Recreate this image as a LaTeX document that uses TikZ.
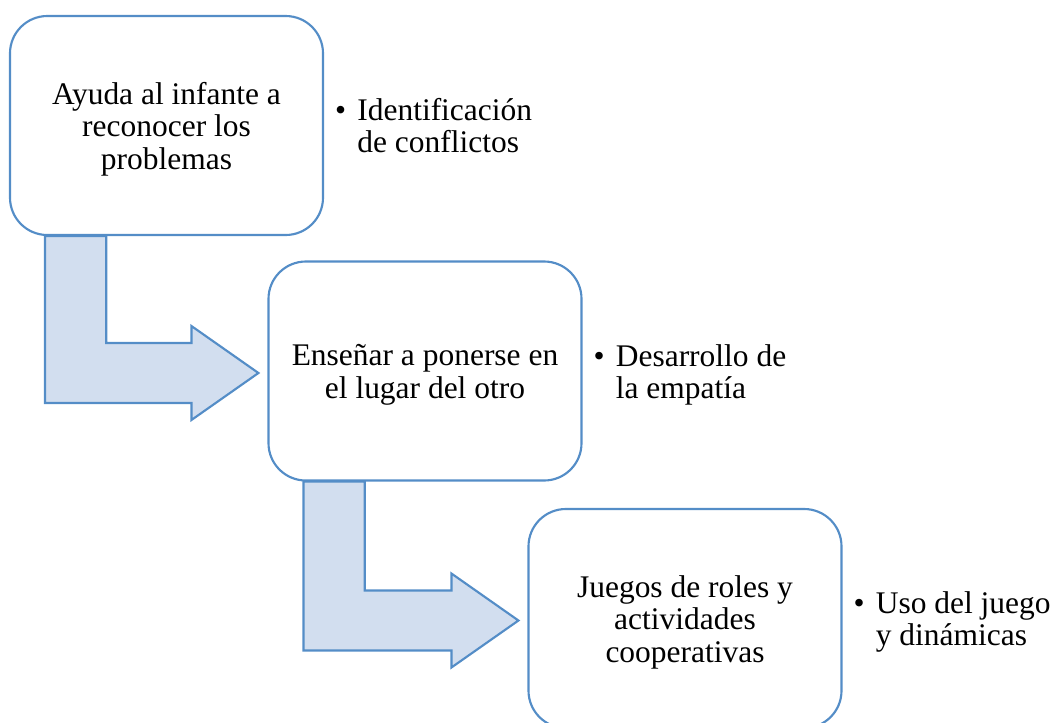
\documentclass[tikz,border=0pt]{standalone}
\usepackage{fontspec}
\setmainfont{Liberation Serif}
\usetikzlibrary{positioning,calc}
\definecolor{edgeblue}{RGB}{84,141,199}
\definecolor{flowfill}{RGB}{210,222,239}
\newcommand{\boxW}{234.75pt}
\newcommand{\boxH}{164.25pt}
% bent arrow from the bottom of one box to the left side of the next
\newcommand{\bendarrow}[2]{%
  \draw[flowarrow] let \p1=(#1.south west), \p2=(#2.west) in
    (\x1+27pt,\y1) -- (\x1+73pt,\y1) -- (\x1+73pt,\y2+21pt)
    -- (\x2-57pt,\y2+21pt) -- (\x2-57pt,\y2+33.75pt) -- (\x2-6.75pt,\y2-1.5pt)
    -- (\x2-57pt,\y2-36.75pt) -- (\x2-57pt,\y2-24pt) -- (\x1+27pt,\y2-24pt) -- cycle;}
\newcommand{\steptext}[1]{\raisebox{-3.6pt}[\height][\depth]{\begin{tabular}{@{}c@{}}#1\end{tabular}}}
\newcommand{\bullettext}[2]{\begin{tabular}{@{}l@{\hspace{8.5pt}}l@{}}\textbullet & #1\\ & #2\end{tabular}}
\tikzset{
  stepbox/.style={draw=edgeblue, line width=1.6pt, fill=white, rounded corners=28pt,
    minimum width=\boxW, minimum height=\boxH, align=center,
    font=\fontsize{23.6}{24.6}\selectfont},
  note/.style={inner sep=0pt, yshift=-3.6pt, font=\fontsize{23.6}{23.8}\selectfont},
  flowarrow/.style={draw=edgeblue, line width=1.6pt, fill=flowfill, line join=miter},
  node distance=8pt
}
\begin{document}
\begin{tikzpicture}[x=0.75pt,y=-0.75pt]
  \useasboundingbox (0,0) rectangle (1056,722);

  % the three steps
  \node[stepbox] (help) at (166.5,125.5) {\steptext{Ayuda al infante a\\reconocer los\\problemas}};
  \node[stepbox] (teach) at (425,371) {\steptext{Enseñar a ponerse en\\el lugar del otro}};
  \node[stepbox] (games) at (685,618.5) {\steptext{Juegos de roles y\\actividades\\cooperativas}};

  % arrows between the steps
  \bendarrow{help}{teach}
  \bendarrow{teach}{games}

  % bullet notes
  \node[note, right=of help.east] (helpnote) {\bullettext{Identificación}{de conflictos}};
  \node[note, right=of teach.east] (teachnote) {\bullettext{Desarrollo de}{la empatía}};
  \node[note, right=of games.east] (gamesnote) {\bullettext{Uso del juego}{y dinámicas}};
\end{tikzpicture}
\end{document}
